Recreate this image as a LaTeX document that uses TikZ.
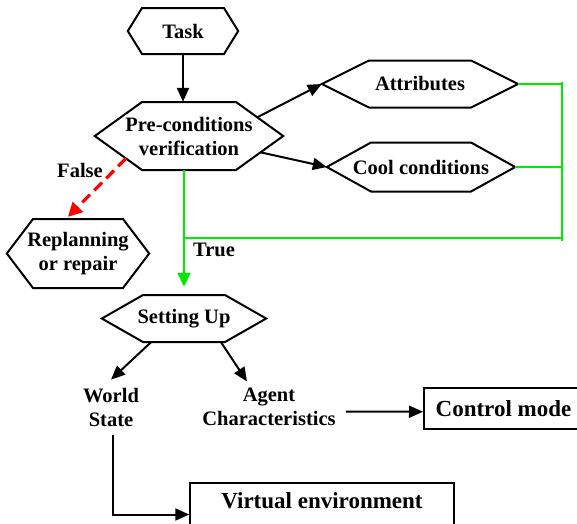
\documentclass[tikz,border=0pt]{standalone}
\usepackage{fontspec}
\setmainfont{Liberation Serif}
\usetikzlibrary{arrows.meta,calc}

\definecolor{truegreen}{RGB}{0,235,0}
\definecolor{falsered}{RGB}{255,0,0}

% flattened hexagon: name, centre x, centre y, half width, half height, corner inset, text
\newcommand\hexagonnode[7]{%
  \node[txt, minimum width=#4*2pt, minimum height=#5*2pt] (#1) at (#2,#3) {#7};
  \coordinate (#1-tl) at (#2-#4+#6,#3-#5);
  \coordinate (#1-tr) at (#2+#4-#6,#3-#5);
  \coordinate (#1-br) at (#2+#4-#6,#3+#5);
  \coordinate (#1-bl) at (#2-#4+#6,#3+#5);
  \draw[hexline] (#1.west) -- (#1-tl) -- (#1-tr) -- (#1.east) -- (#1-br) -- (#1-bl) -- cycle;
}

\begin{document}
\begin{tikzpicture}[x=1pt,y=-1pt,
  txt/.style={font=\fontsize{20.5}{24}\selectfont\bfseries, align=center, inner sep=0pt},
  boxtxt/.style={font=\fontsize{23}{27}\selectfont\bfseries, inner sep=0pt},
  hexline/.style={draw=black, line width=2pt, line join=miter},
  boxst/.style={draw=black, line width=2pt, inner sep=0pt},
  arr/.style={draw=black, line width=2pt, -{Triangle[length=14pt,width=12pt]}},
  greenline/.style={draw=truegreen, line width=1.8pt},
  greenarr/.style={greenline, -{Triangle[length=14pt,width=13pt]}},
  falsearr/.style={draw=falsered, line width=3.2pt, dash pattern=on 11pt off 6pt,
    -{Triangle[length=14pt,width=14pt]}}]

\useasboundingbox (0,0) rectangle (577,523);
\clip (0,0) rectangle (577,523);

% decision flow
\hexagonnode{task}{183}{31}{55}{23}{14}{Task}
\hexagonnode{pre}{189}{136}{94}{34}{47}{Pre-conditions\\verification}
\hexagonnode{attr}{420}{84}{98}{23.5}{47}{Attributes}
\hexagonnode{cool}{421}{167}{94}{24.5}{44}{Cool conditions}
\hexagonnode{replan}{78}{253.5}{71}{34.5}{26}{Replanning\\or repair}
\hexagonnode{setup}{184}{318.5}{82}{23.5}{41}{Setting Up}

\node[txt] (falselbl) at (80,170) {False};
\node[txt] (truelbl) at (214,250) {True};

\node[txt] (world) at (111,407) {World\\State};
\node[txt] (agent) at (269,406.5) {Agent\\Characteristics};

\node[boxst, boxtxt, minimum width=159pt, minimum height=41pt] (ctrl) at (503.5,408.75) {Control mode};
\node[boxst, minimum width=263.5pt, minimum height=63pt, anchor=north] (venv) at (322,482) {};
\node[boxtxt, anchor=base] (venvtext) at (322,508.3) {Virtual environment};

% black connectors
\draw[arr] (task.south) -- (task.south |- pre.north);
\draw[arr] ($(pre.east)!0.55!(pre-tr)$) -- (attr.west);
\draw[arr] ($(pre.east)!0.48!(pre-br)$) -- (cool.west);
\draw[arr] ([xshift=-33pt]setup.south) -- ([yshift=8pt]world.north);
\draw[arr] ([xshift=37pt]setup.south) -- ([xshift=-22pt,yshift=6pt]agent.north);
\draw[arr] ([xshift=10pt,yshift=-5pt]agent.east) -- ([yshift=-3pt]ctrl.west);
\draw[arr] ([xshift=2pt,yshift=-9pt]world.south) |- (venv.west);

% failed check
\draw[falsearr] ($(pre.west)!0.66!(pre-bl)$) -- ([xshift=-10pt,yshift=2pt]replan.north);

% condition feedback loop
\coordinate (gA) at (562,84);
\coordinate (gC) at (562,167);
\coordinate (gtop) at (562,82);
\coordinate (gbot) at (562,241);
\coordinate (gjoin) at (562,238);
\draw[greenline] (attr.east) -- (gA);
\draw[greenline] (cool.east) -- (gC);
\draw[greenline] (gtop) -- (gbot);
\draw[greenline] (gjoin) -- (gjoin -| setup.north);
\draw[greenarr, shorten >=8pt] (setup.north |- pre.south) -- (setup.north);

\end{tikzpicture}
\end{document}
